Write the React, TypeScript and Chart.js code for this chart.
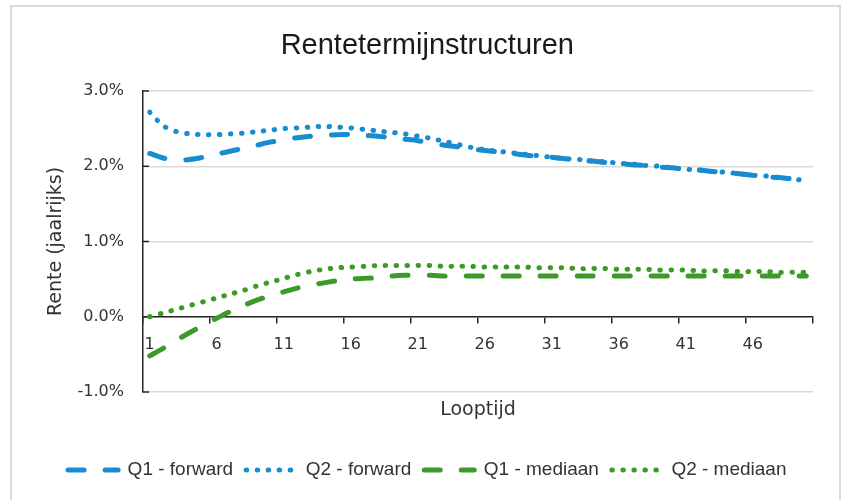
import React, { useEffect, useRef } from 'react';
import { Chart, registerables } from 'chart.js';

Chart.register(...registerables);

const looptijd = [
  '1', '2', '3', '4', '5', '6', '7', '8', '9', '10',
  '11', '12', '13', '14', '15', '16', '17', '18', '19', '20',
  '21', '22', '23', '24', '25', '26', '27', '28', '29', '30',
  '31', '32', '33', '34', '35', '36', '37', '38', '39', '40',
  '41', '42', '43', '44', '45', '46', '47', '48', '49', '50',
];

const xTickLabels = ['1', '6', '11', '16', '21', '26', '31', '36', '41', '46'];

const q1Forward = [
  2.17, 2.11, 2.08, 2.09, 2.12, 2.16, 2.2, 2.24, 2.28, 2.32,
  2.35, 2.38, 2.4, 2.41, 2.42, 2.42, 2.41, 2.4, 2.38, 2.36,
  2.34, 2.31, 2.28, 2.26, 2.23, 2.21, 2.19, 2.17, 2.15, 2.13,
  2.12, 2.1, 2.08, 2.07, 2.05, 2.04, 2.02, 2.01, 1.99, 1.98,
  1.96, 1.95, 1.93, 1.92, 1.9, 1.88, 1.86, 1.85, 1.83, 1.81,
];

const q2Forward = [
  2.72, 2.54, 2.46, 2.43, 2.42, 2.42, 2.43, 2.44, 2.46, 2.48,
  2.5, 2.51, 2.52, 2.53, 2.52, 2.51, 2.49, 2.47, 2.45, 2.43,
  2.4, 2.37, 2.33, 2.29, 2.25, 2.22, 2.2, 2.18, 2.16, 2.14,
  2.12, 2.1, 2.09, 2.07, 2.06, 2.04, 2.03, 2.01, 2.0, 1.98,
  1.96, 1.95, 1.93, 1.92, 1.9, 1.88, 1.87, 1.85, 1.83, 1.81,
];

const q1Mediaan = [
  -0.52, -0.42, -0.31, -0.21, -0.11, -0.02, 0.07, 0.15, 0.22, 0.28,
  0.33, 0.38, 0.42, 0.45, 0.48, 0.5, 0.51, 0.52, 0.54, 0.55,
  0.55, 0.55, 0.54, 0.54, 0.54, 0.54, 0.54, 0.54, 0.54, 0.54,
  0.54, 0.54, 0.54, 0.54, 0.54, 0.54, 0.54, 0.54, 0.54, 0.54,
  0.54, 0.54, 0.54, 0.54, 0.54, 0.54, 0.54, 0.54, 0.54, 0.54,
];

const q2Mediaan = [
  0.0, 0.05, 0.1, 0.15, 0.2, 0.25, 0.3, 0.35, 0.41, 0.46,
  0.51, 0.56, 0.6, 0.63, 0.65, 0.66, 0.67, 0.68, 0.68, 0.68,
  0.68, 0.68, 0.67, 0.67, 0.67, 0.66, 0.66, 0.66, 0.66, 0.65,
  0.65, 0.65, 0.64, 0.64, 0.64, 0.63, 0.63, 0.63, 0.62, 0.62,
  0.62, 0.61, 0.61, 0.61, 0.6, 0.6, 0.6, 0.59, 0.59, 0.59,
];

const BLUE = 'rgb(24, 140, 208)';
const GREEN = 'rgb(60, 154, 40)';
const AXIS = '#262626';
const TEXT = '#333333';
const GRID = '#d9d9d9';
const DASHED = [16, 21];
const DOTTED = [0.5, 10.5];
const LINE_W = 5;

const insideYTicks = {
  id: 'insideYTicks',
  beforeDatasetsDraw(chart: any) {
    const y = chart.scales.y;
    const ctx = chart.ctx;
    const left = chart.chartArea.left;
    ctx.save();
    ctx.strokeStyle = AXIS;
    ctx.lineWidth = 1.5;
    y.ticks.forEach((t: any) => {
      const py = y.getPixelForValue(t.value);
      ctx.beginPath();
      ctx.moveTo(left, py);
      ctx.lineTo(left + 6, py);
      ctx.stroke();
    });
    ctx.restore();
  },
};

export default function App() {
  const ref = useRef<HTMLCanvasElement>(null);

  useEffect(() => {
    const mk = (label: string, data: number[], color: string, dash: number[]) => ({
      label,
      data,
      borderColor: color,
      backgroundColor: color,
      borderWidth: LINE_W,
      borderDash: dash,
      borderCapStyle: 'round',
      pointRadius: 0,
      tension: 0.3,
    });
    const baseLabels = (Chart as any).defaults.plugins.legend.labels.generateLabels;
    const chart = new Chart(ref.current as HTMLCanvasElement, {
      type: 'line',
      data: {
        labels: looptijd,
        datasets: [
          mk('Q1 - forward', q1Forward, BLUE, DASHED),
          mk('Q2 - forward', q2Forward, BLUE, DOTTED),
          mk('Q1 - mediaan', q1Mediaan, GREEN, DASHED),
          mk('Q2 - mediaan', q2Mediaan, GREEN, DOTTED),
        ],
      } as any,
      options: {
        animation: false,
        responsive: true,
        maintainAspectRatio: false,
        layout: { padding: { left: 41.6, right: 30, top: 0, bottom: 10.5 } },
        plugins: {
          title: {
            display: true,
            text: 'Rentetermijnstructuren',
            color: '#1a1a1a',
            font: { family: "'Liberation Sans', Arial, sans-serif", size: 29, weight: 'normal' },
            padding: { top: 29, bottom: 27.2 },
          },
          legend: {
            position: 'bottom',
            labels: {
              usePointStyle: true,
              pointStyle: 'line',
              pointStyleWidth: 50,
              padding: 13,
              color: TEXT,
              font: { family: "'Liberation Sans', Arial, sans-serif", size: 19 },
              generateLabels: (c: any) =>
                baseLabels(c).map((l: any, i: number) => {
                  const ds = c.data.datasets[i];
                  return {
                    ...l,
                    pointStyle: 'line',
                    lineDash: ds.borderDash,
                    lineCap: 'round',
                    lineWidth: LINE_W,
                    strokeStyle: ds.borderColor,
                    fillStyle: ds.borderColor,
                  };
                }),
            },
          },
          tooltip: { enabled: false },
        },
        scales: {
          x: {
            type: 'category',
            position: { y: 0 },
            offset: true,
            grid: {
              offset: true,
              display: true,
              drawOnChartArea: false,
              drawTicks: true,
              tickLength: 6,
              lineWidth: 1.5,
              tickColor: (c: any) =>
                c.index === undefined || c.index % 5 === 0 ? AXIS : 'rgba(0,0,0,0)',
            },
            border: { display: true, color: AXIS, width: 1.5 },
            ticks: {
              autoSkip: false,
              maxRotation: 0,
              minRotation: 0,
              padding: 12,
              color: TEXT,
              font: { family: "'DejaVu Sans', sans-serif", size: 16 },
              callback: (_v: any, i: number) =>
                xTickLabels.includes(looptijd[i]) ? looptijd[i] : '',
            },
          },
          xt: {
            type: 'linear',
            position: 'bottom',
            display: true,
            grid: { display: false, drawTicks: false },
            border: { display: false },
            ticks: { display: false },
            title: {
              display: true,
              text: 'Looptijd',
              color: TEXT,
              font: { family: "'DejaVu Sans', sans-serif", size: 19 },
              padding: { top: 6.6, bottom: 26.1 },
            },
          },
          y: {
            type: 'linear',
            position: 'left',
            min: -1,
            max: 3,
            afterFit: (s: any) => {
              s.width = 101.4;
            },
            grid: { color: GRID, lineWidth: 1.5, drawTicks: false },
            border: { display: true, color: AXIS, width: 1.5 },
            ticks: {
              stepSize: 1,
              padding: 19,
              color: TEXT,
              font: { family: "'DejaVu Sans', sans-serif", size: 16 },
              callback: (v: any) => Number(v).toFixed(1) + '%',
            },
            title: {
              display: true,
              text: 'Rente (jaalrijks)',
              color: TEXT,
              font: { family: "'DejaVu Sans', sans-serif", size: 19 },
              padding: { top: 3, bottom: 10.1 },
            },
          },
        },
      } as any,
      plugins: [insideYTicks],
    });
    return () => chart.destroy();
  }, []);

  return (
    <div
      style={{
        position: 'fixed',
        left: 0,
        top: 0,
        width: 843,
        height: 500,
        overflow: 'hidden',
        background: '#ffffff',
      }}
    >
      <div
        style={{
          position: 'absolute',
          left: 10,
          top: 5,
          width: 827,
          height: 520,
          border: '2px solid #d9d9d9',
        }}
      />
      <div style={{ position: 'absolute', left: 0, top: 0, width: 843, height: 500 }}>
        <canvas ref={ref} />
      </div>
    </div>
  );
}
